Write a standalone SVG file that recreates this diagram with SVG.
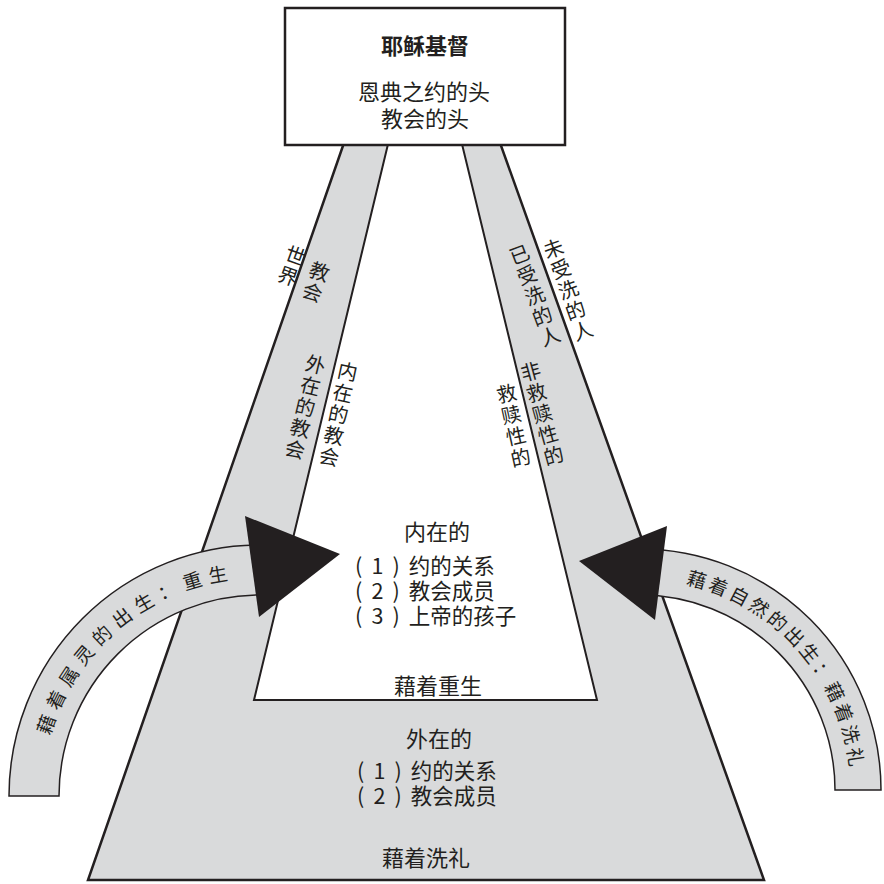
<svg xmlns="http://www.w3.org/2000/svg" width="884" height="884" viewBox="0 0 884 884">
<defs>
<style>
.t{font-family:"Noto Sans CJK SC","Noto Sans",sans-serif;fill:#231f20}
.m{font-size:22px}
.s{font-size:21.5px;word-spacing:4.3px}
.b{font-weight:bold}
.c{text-anchor:middle}
.v{font-size:20px;writing-mode:vertical-rl;letter-spacing:1.8px}
.a{font-size:19px}
.edge{stroke:#231f20;stroke-linejoin:miter}
.gray{fill:#d9dadb}
.head{fill:#231f20}
</style>
<path id="pL" d="M 41.7 796 A 218.3 218.3 0 0 1 260 577.7" fill="none"/>
<path id="pR" d="M 640 579.2 A 210.8 210.8 0 0 1 850.8 790" fill="none"/>
</defs>
<rect width="884" height="884" fill="#fff"/>
<g id="church">
<polygon class="gray edge" stroke-width="2.5" points="345,140 88,880 764,880 499,140"/>
<polygon fill="#fff" class="edge" stroke-width="2" points="389,140 254,700 597,700 461,140"/>
</g>
<g id="head-box">
<rect x="285" y="8" width="280" height="137" fill="#fff" stroke="#231f20" stroke-width="2.5"/>
<text class="t m b c" x="425" y="54">耶稣基督</text>
<text class="t m c"><tspan x="424" y="100">恩典之约的头</tspan><tspan x="425" y="127">教会的头</tspan></text>
</g>
<g id="band-labels">
<text class="t v" transform="translate(298.9,246.1) rotate(20)">世界</text>
<text class="t v" transform="translate(322.8,262) rotate(19)">教会</text>
<text class="t v" transform="translate(317.9,354.8) rotate(13.6)">外在的教会</text>
<text class="t v" transform="translate(349.6,361.7) rotate(12.1)">内在的教会</text>
<text class="t v" transform="translate(550.1,239.1) rotate(-19.6)">未受洗的人</text>
<text class="t v" transform="translate(516,245.1) rotate(-20.4)">已受洗的人</text>
<text class="t v" transform="translate(527.9,361.9) rotate(-15.4)">非救赎性的</text>
<text class="t v" transform="translate(504.4,383.7) rotate(-12.4)">救赎性的</text>
</g>
<g id="inner">
<text class="t m c" x="437" y="540">内在的</text>
<text class="t s"><tspan x="355" y="574">( 1 ) 约的关系</tspan><tspan x="355" y="599">( 2 ) 教会成员</tspan><tspan x="355" y="624">( 3 ) 上帝的孩子</tspan></text>
<text class="t m c" x="438" y="694">藉着重生</text>
</g>
<g id="outer">
<text class="t m c" x="439" y="747">外在的</text>
<text class="t s"><tspan x="357" y="779">( 1 ) 约的关系</tspan><tspan x="357" y="804">( 2 ) 教会成员</tspan></text>
<text class="t m c" x="426" y="866">藉着洗礼</text>
</g>
<g id="connectors">
<g id="arrow-left">
<path class="gray edge" stroke-width="1.5" d="M 9 796 A 251 251 0 0 1 260 545 L 260 595 A 201 201 0 0 0 59 796 Z"/>
<text class="t a" style="letter-spacing:6.7px"><textPath href="#pL" startOffset="60.9">藉着属灵的出生：重生</textPath></text>
<polygon class="head" points="245,516 340,554 259,617"/>
</g>
<g id="arrow-right">
<path class="gray edge" stroke-width="1.5" d="M 881 790 A 241 241 0 0 0 640 549 L 640 595 A 195 195 0 0 1 835 790 Z"/>
<text class="t a" style="letter-spacing:3.1px"><textPath href="#pR" startOffset="46">藉着自然的出生：藉着洗礼</textPath></text>
<polygon class="head" points="667,526 579,561 655,620"/>
</g>
</g>
</svg>
